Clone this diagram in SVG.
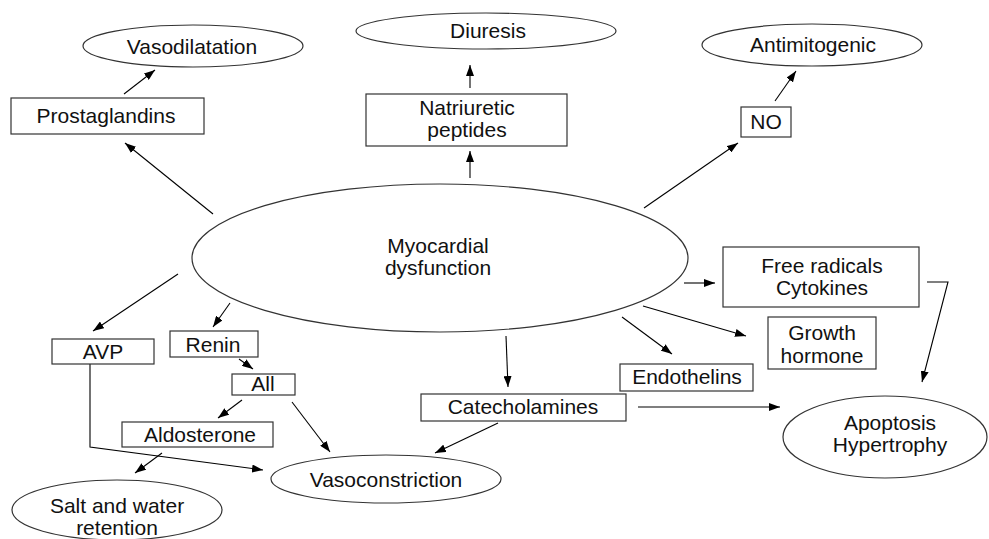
<svg xmlns="http://www.w3.org/2000/svg" width="989" height="539" viewBox="0 0 989 539">
<defs>
<marker id="ah" markerUnits="userSpaceOnUse" markerWidth="11" markerHeight="8" refX="11" refY="4" orient="auto">
<path d="M0,0 L11,4 L0,8 z" fill="#000"/>
</marker>
<style>
rect, ellipse { fill: #fff; stroke: #333; stroke-width: 1.2; }
text { font-family: "Liberation Sans", Arial, Helvetica, sans-serif; font-size: 21px; fill: #111; text-anchor: middle; }
.c line, .c polyline { stroke: #000; stroke-width: 1.1; fill: none; marker-end: url(#ah); }
</style>
</defs>
<rect width="989" height="539" fill="#fff" style="stroke:none"/>

<g class="c" id="connectors">
<line x1="213" y1="214" x2="125" y2="143"/>
<line x1="124" y1="94" x2="155" y2="70"/>
<line x1="470" y1="178" x2="470" y2="151"/>
<line x1="470" y1="88" x2="470" y2="65"/>
<line x1="644" y1="208" x2="738" y2="143"/>
<line x1="775" y1="101" x2="796" y2="71"/>
<line x1="684" y1="283" x2="715" y2="283"/>
<polyline points="927,282 948,282 922,382"/>
<line x1="643" y1="306" x2="746" y2="336"/>
<line x1="622" y1="317" x2="672" y2="354"/>
<line x1="506" y1="336" x2="508" y2="387"/>
<line x1="498" y1="423" x2="435" y2="453"/>
<line x1="638" y1="407" x2="780" y2="407"/>
<line x1="178" y1="274" x2="93" y2="331"/>
<line x1="230" y1="303" x2="213" y2="327"/>
<line x1="239" y1="359" x2="253" y2="369"/>
<line x1="242" y1="400" x2="218" y2="418"/>
<line x1="292" y1="402" x2="330" y2="452"/>
<line x1="162" y1="453" x2="135" y2="473"/>
<polyline points="90,364 90,447 263,470"/>
</g>

<g id="myocardial">
<ellipse cx="440" cy="258" rx="248" ry="74"/>
<text x="438" y="253">Myocardial</text>
<text x="438" y="275">dysfunction</text>
</g>
<g id="vasodilatation">
<ellipse cx="193" cy="46" rx="110" ry="21"/>
<text x="192" y="54">Vasodilatation</text>
</g>
<g id="prostaglandins">
<rect x="11" y="98" width="193" height="36"/>
<text x="106" y="123">Prostaglandins</text>
</g>
<g id="diuresis">
<ellipse cx="486" cy="31" rx="130" ry="18"/>
<text x="488" y="38">Diuresis</text>
</g>
<g id="natriuretic">
<rect x="366" y="94" width="201" height="52"/>
<text x="467" y="115">Natriuretic</text>
<text x="467" y="137">peptides</text>
</g>
<g id="antimitogenic">
<ellipse cx="812" cy="45" rx="110" ry="21"/>
<text x="813" y="52">Antimitogenic</text>
</g>
<g id="no">
<rect x="741" y="107" width="50" height="30"/>
<text x="766" y="129">NO</text>
</g>
<g id="free-radicals">
<rect x="723" y="247" width="196" height="60"/>
<text x="822" y="273">Free radicals</text>
<text x="822" y="295">Cytokines</text>
</g>
<g id="growth-hormone">
<rect x="768" y="317" width="108" height="52"/>
<text x="822" y="340">Growth</text>
<text x="822" y="363">hormone</text>
</g>
<g id="endothelins">
<rect x="620" y="364" width="133" height="27"/>
<text x="687" y="384">Endothelins</text>
</g>
<g id="catecholamines">
<rect x="421" y="394" width="205" height="27"/>
<text x="523" y="414">Catecholamines</text>
</g>
<g id="apoptosis">
<ellipse cx="885" cy="437" rx="102" ry="41"/>
<text x="890" y="430">Apoptosis</text>
<text x="890" y="452">Hypertrophy</text>
</g>
<g id="vasoconstriction">
<ellipse cx="386" cy="479" rx="115" ry="24"/>
<text x="386" y="487">Vasoconstriction</text>
</g>
<g id="avp">
<rect x="52" y="339" width="102" height="25"/>
<text x="103" y="359">AVP</text>
</g>
<g id="renin">
<rect x="170" y="331" width="88" height="26"/>
<text x="213" y="352">Renin</text>
</g>
<g id="aii">
<rect x="232" y="374" width="63" height="21"/>
<text x="263" y="391">All</text>
</g>
<g id="aldosterone">
<rect x="122" y="422" width="151" height="25"/>
<text x="200" y="442">Aldosterone</text>
</g>
<g id="salt-water">
<ellipse cx="117" cy="510" rx="105" ry="30"/>
<text x="117" y="513">Salt and water</text>
<text x="117" y="535">retention</text>
</g>
</svg>
